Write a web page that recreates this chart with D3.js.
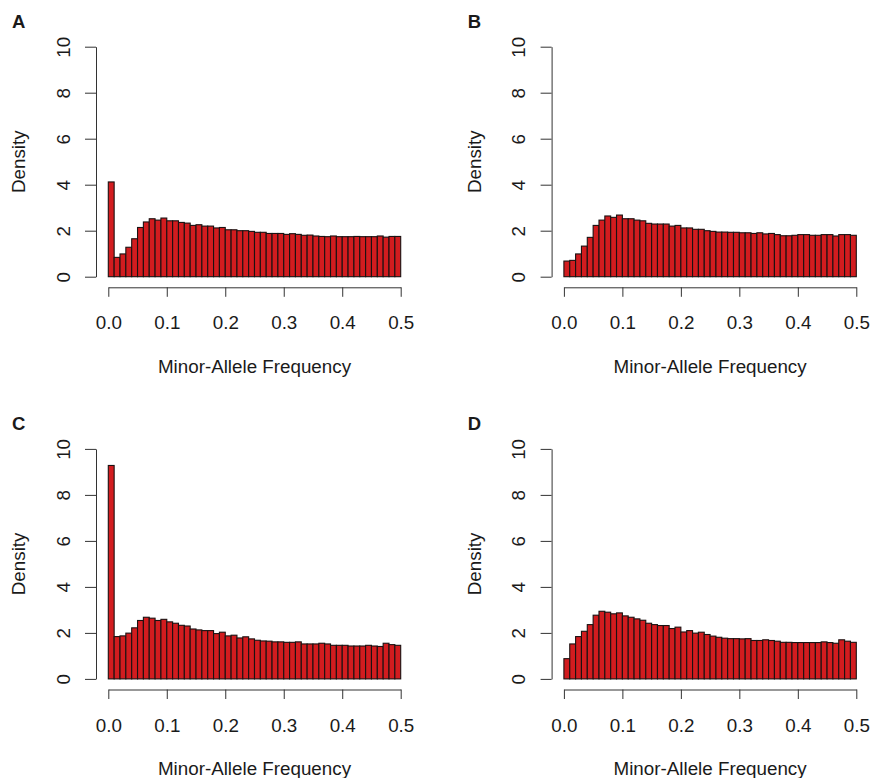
<!DOCTYPE html>
<html>
<head>
<meta charset="utf-8">
<script src="https://cdn.jsdelivr.net/npm/d3@7"></script>
<style>
  body { margin: 0; background: #fff; }
  svg { display: block; }
  text { font-family: "Liberation Sans", Arial, Helvetica, sans-serif; fill: #1a1a1a; }
</style>
</head>
<body>
<div id="chart"></div>
<script>
// Histogram densities, 50 bins of width 0.01 from 0.0 to 0.5
const densityA = [4.12, 0.84, 0.99, 1.28, 1.65, 2.14, 2.38, 2.52, 2.46, 2.55,
                  2.43, 2.43, 2.36, 2.33, 2.23, 2.26, 2.20, 2.20, 2.12, 2.14,
                  2.04, 2.04, 2.00, 2.00, 1.97, 1.93, 1.93, 1.88, 1.88, 1.88,
                  1.84, 1.87, 1.84, 1.80, 1.81, 1.77, 1.75, 1.74, 1.77, 1.74,
                  1.74, 1.74, 1.75, 1.74, 1.74, 1.74, 1.77, 1.72, 1.75, 1.75];
const densityB = [0.68, 0.71, 0.99, 1.33, 1.71, 2.23, 2.46, 2.64, 2.58, 2.68,
                  2.52, 2.52, 2.46, 2.43, 2.32, 2.29, 2.29, 2.29, 2.20, 2.23,
                  2.12, 2.12, 2.06, 2.06, 2.00, 1.97, 1.94, 1.94, 1.93, 1.93,
                  1.91, 1.91, 1.88, 1.91, 1.86, 1.88, 1.83, 1.78, 1.78, 1.80,
                  1.83, 1.83, 1.80, 1.80, 1.83, 1.83, 1.77, 1.83, 1.83, 1.80];
const densityC = [9.28, 1.84, 1.87, 1.99, 2.22, 2.54, 2.68, 2.64, 2.54, 2.59,
                  2.48, 2.42, 2.33, 2.30, 2.17, 2.13, 2.10, 2.10, 1.97, 2.03,
                  1.87, 1.90, 1.78, 1.83, 1.74, 1.68, 1.65, 1.64, 1.61, 1.61,
                  1.59, 1.59, 1.61, 1.52, 1.52, 1.52, 1.55, 1.52, 1.46, 1.46,
                  1.46, 1.43, 1.43, 1.43, 1.46, 1.43, 1.41, 1.55, 1.49, 1.46];
const densityD = [0.88, 1.52, 1.84, 2.07, 2.36, 2.77, 2.94, 2.90, 2.83, 2.87,
                  2.74, 2.68, 2.61, 2.55, 2.42, 2.36, 2.32, 2.32, 2.19, 2.25,
                  2.04, 2.10, 1.99, 2.03, 1.93, 1.86, 1.81, 1.77, 1.75, 1.75,
                  1.74, 1.75, 1.67, 1.67, 1.70, 1.67, 1.64, 1.59, 1.59, 1.58,
                  1.58, 1.58, 1.58, 1.58, 1.61, 1.58, 1.55, 1.70, 1.64, 1.59];

const binWidth = 0.01;
const xTicks = [0, 0.1, 0.2, 0.3, 0.4, 0.5];
const yTicks = [0, 2, 4, 6, 8, 10];
const panelLetters = ['A', 'B', 'C', 'D'];

const W = 870, H = 778;
const barFill = '#d21c1f';
const fontSize = 18.8;

const svg = d3.select('#chart')
  .append('svg')
  .attr('width', W)
  .attr('height', H);

// Panel A geometry; the others are shifted copies
const plotLeft = 108.3, plotRight = 400.7, plotBottom = 276.7, plotTop = 46.7;
const yAxisX = 96, xAxisY = 287.3;
const offsets = [[0, 0], [455.6, 0], [0, 402.2], [455.6, 402.2]];

const x = d3.scaleLinear().domain([0, 0.5]).range([plotLeft, plotRight]);
const y = d3.scaleLinear().domain([0, 10]).range([plotBottom, plotTop]);

[densityA, densityB, densityC, densityD].forEach((data, k) => {
  const g = svg.append('g')
    .attr('transform', `translate(${offsets[k][0]},${offsets[k][1]})`);

  // bars
  g.append('g')
    .selectAll('rect')
    .data(data)
    .join('rect')
    .attr('x', (d, i) => x(i * binWidth))
    .attr('width', x(binWidth) - x(0))
    .attr('y', d => y(d))
    .attr('height', d => y(0) - y(d))
    .attr('fill', barFill)
    .attr('stroke', '#1a1212')
    .attr('stroke-width', 1.1);

  // y axis, R style: offset from plot, labels rotated
  const yAxis = g.append('g')
    .attr('transform', `translate(${yAxisX},0)`)
    .style('color', '#333')
    .call(d3.axisLeft(y).tickValues(yTicks).tickSize(11).tickSizeOuter(0).tickFormat(d3.format('d')));
  yAxis.selectAll('text')
    .attr('x', null).attr('dy', null)
    .attr('text-anchor', 'middle')
    .attr('transform', 'translate(-26.5,0) rotate(-90)')
    .style('font-size', fontSize + 'px');

  // x axis
  const xAxis = g.append('g')
    .attr('transform', `translate(0,${xAxisY})`)
    .style('color', '#333')
    .call(d3.axisBottom(x).tickValues(xTicks).tickSize(9.5).tickSizeOuter(0).tickFormat(d3.format('.1f')));
  xAxis.selectAll('text')
    .attr('y', 42).attr('dy', null)
    .style('font-size', fontSize + 'px');

  // axis titles
  g.append('text')
    .attr('x', (plotLeft + plotRight) / 2)
    .attr('y', 372.9)
    .attr('text-anchor', 'middle')
    .style('font-size', fontSize + 'px')
    .text('Minor-Allele Frequency');

  g.append('text')
    .attr('transform', `translate(25,${(plotTop + plotBottom) / 2}) rotate(-90)`)
    .attr('text-anchor', 'middle')
    .style('font-size', fontSize + 'px')
    .text('Density');

  // panel letter
  g.append('text')
    .attr('x', 18.8)
    .attr('y', 28.3)
    .attr('text-anchor', 'middle')
    .style('font-size', '18.5px')
    .style('font-weight', 'bold')
    .text(panelLetters[k]);
});
</script>
</body>
</html>
